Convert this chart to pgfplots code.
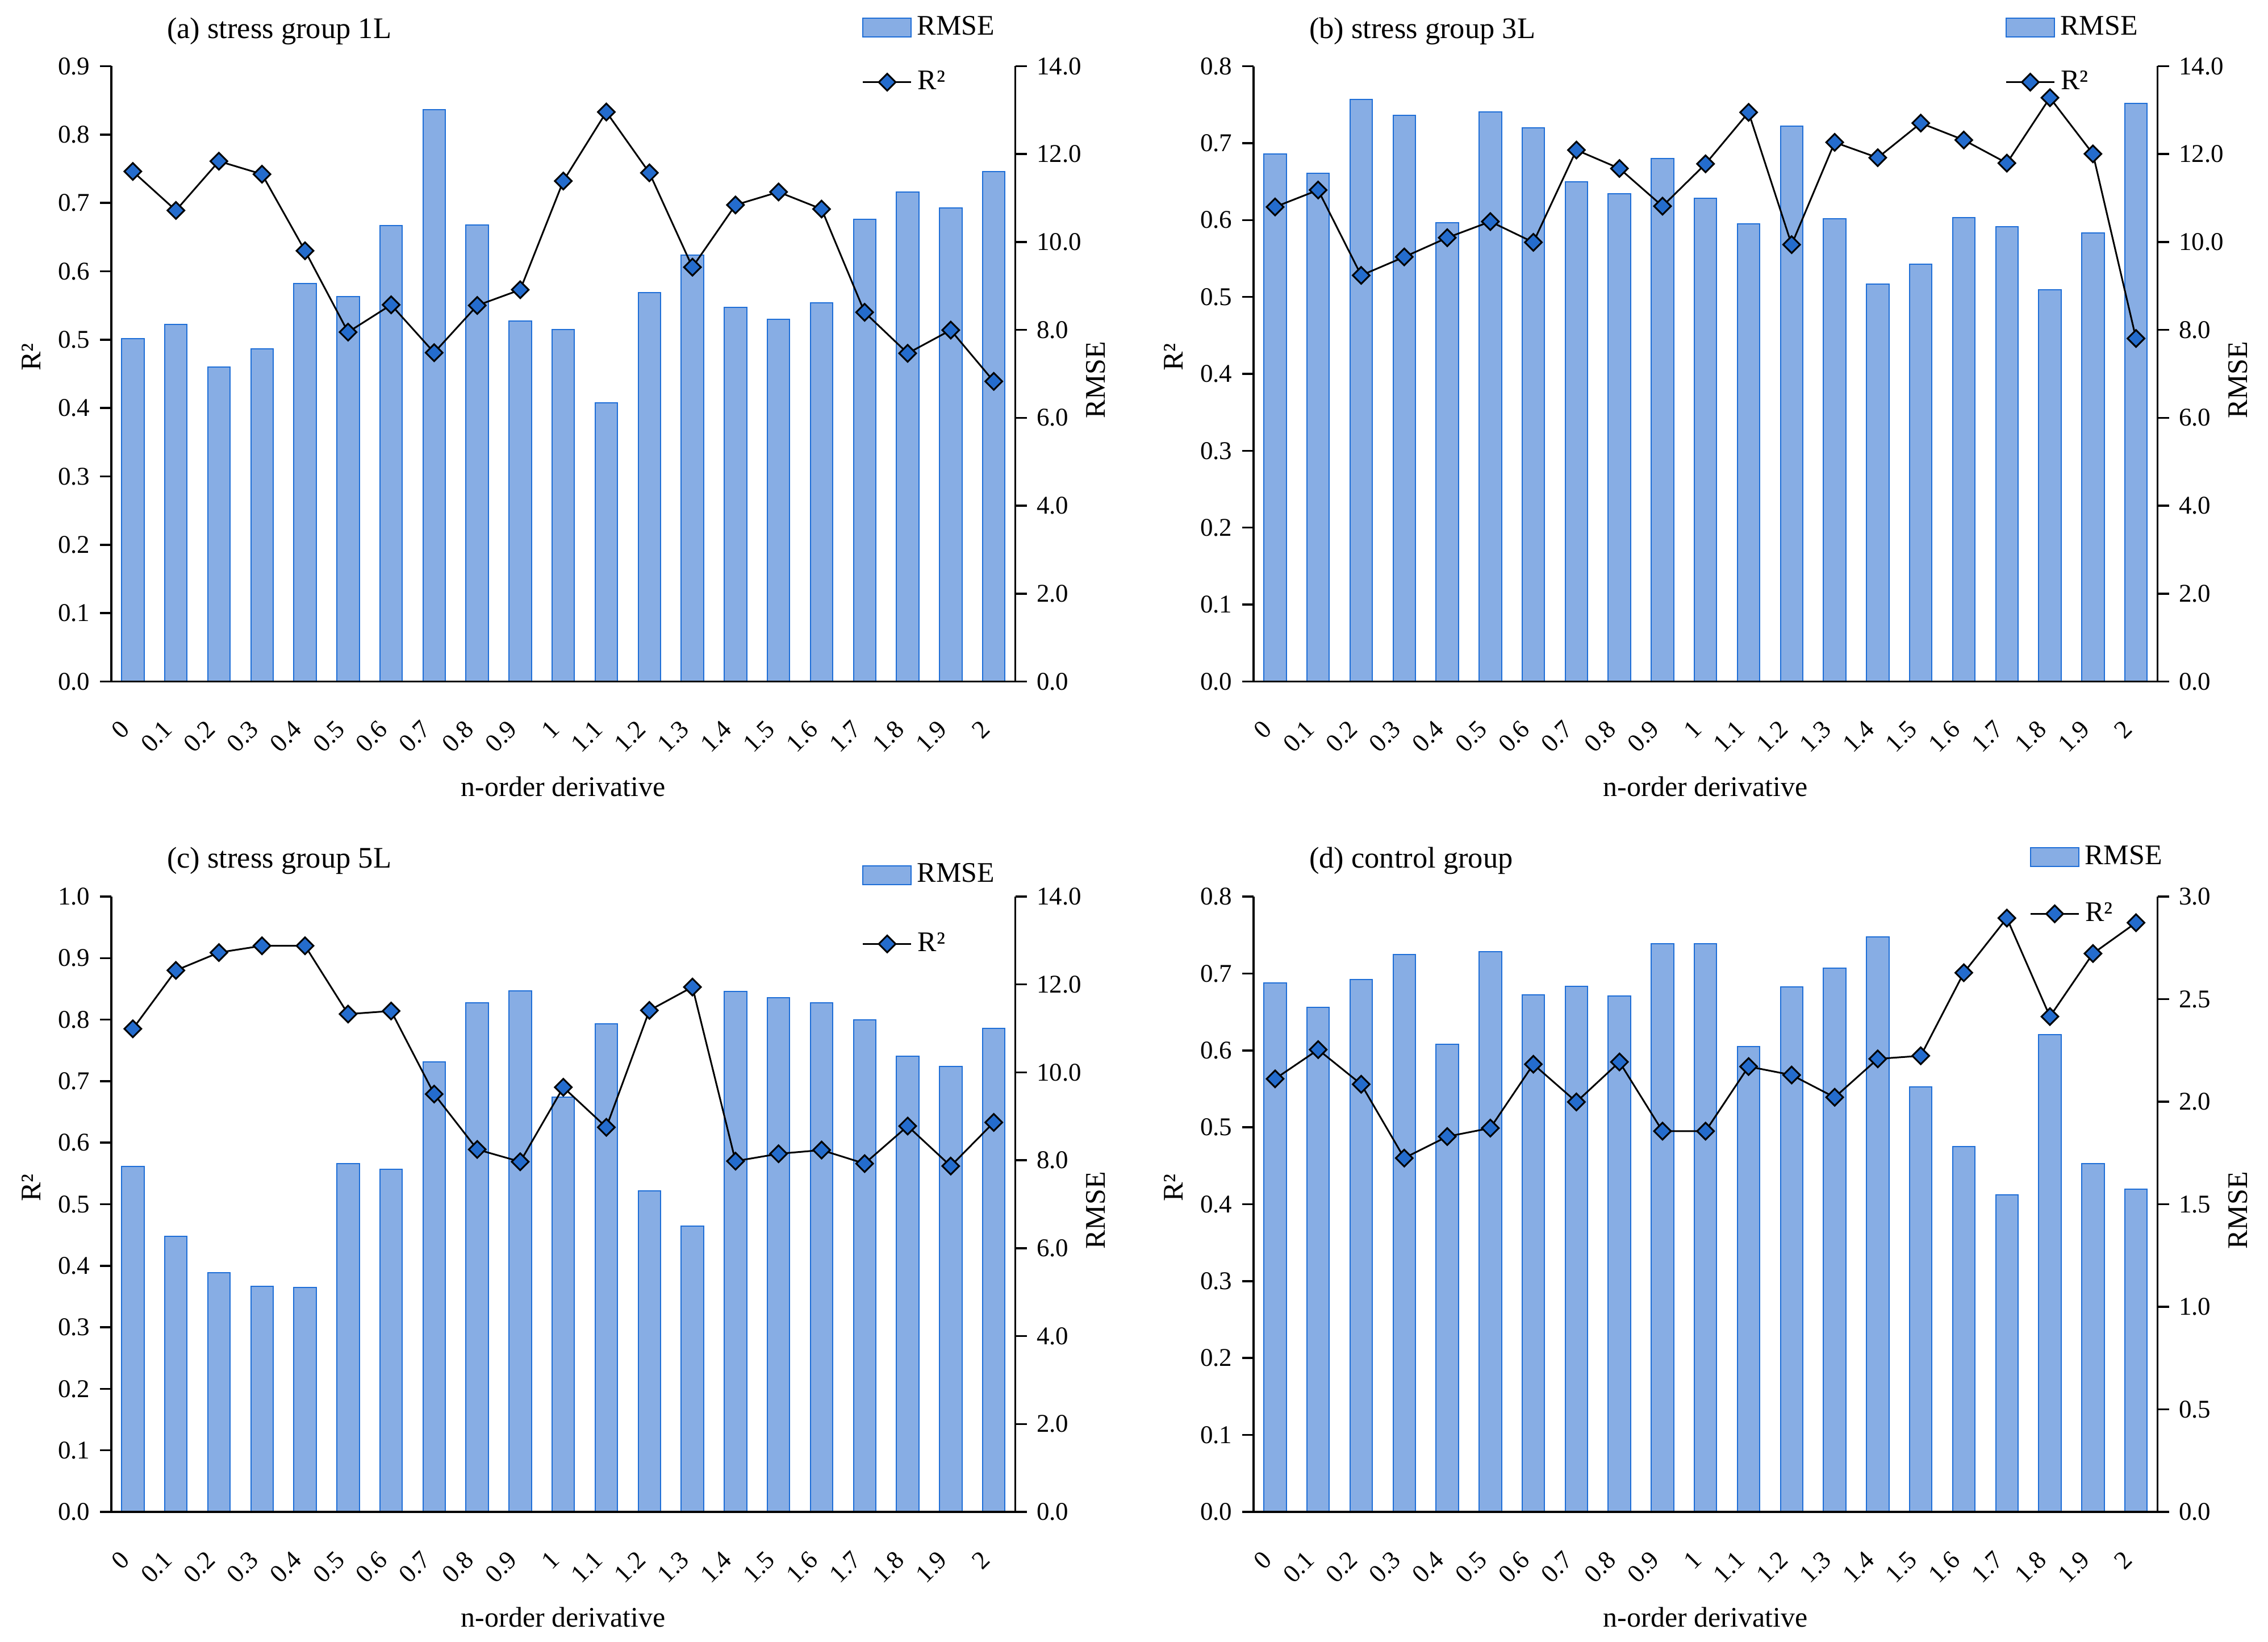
\documentclass[border=0pt]{standalone}
\usepackage{fontspec}
\setmainfont{Liberation Serif}
\usepackage{pgfplots}
\usepackage{pgfplotstable}
\pgfplotsset{compat=1.18}
\definecolor{barfill}{RGB}{135,173,228}
\definecolor{baredge}{RGB}{30,110,215}
\definecolor{mkfill}{RGB}{36,108,205}

\pgfplotstableread{
i rmse r2
0 7.80 0.746
1 8.13 0.689
2 7.15 0.761
3 7.57 0.742
4 9.05 0.630
5 8.76 0.511
6 10.37 0.551
7 13.01 0.481
8 10.39 0.550
9 8.20 0.573
10 8.01 0.732
11 6.34 0.833
12 8.85 0.744
13 9.70 0.606
14 8.51 0.697
15 8.24 0.716
16 8.62 0.691
17 10.51 0.540
18 11.14 0.480
19 10.77 0.514
20 11.60 0.439
}\tabA
\pgfplotstableread{
i rmse r2
0 12.00 0.617
1 11.56 0.639
2 13.24 0.528
3 12.88 0.552
4 10.44 0.577
5 12.96 0.598
6 12.60 0.571
7 11.37 0.691
8 11.10 0.667
9 11.90 0.618
10 11.00 0.673
11 10.41 0.740
12 12.63 0.568
13 10.53 0.701
14 9.04 0.681
15 9.49 0.726
16 10.56 0.704
17 10.35 0.674
18 8.91 0.759
19 10.20 0.686
20 13.15 0.446
}\tabB
\pgfplotstableread{
i rmse r2
0 7.86 0.785
1 6.27 0.880
2 5.44 0.909
3 5.13 0.920
4 5.11 0.920
5 7.92 0.809
6 7.80 0.814
7 10.24 0.679
8 11.58 0.589
9 11.85 0.569
10 9.44 0.690
11 11.10 0.625
12 7.30 0.815
13 6.50 0.853
14 11.84 0.570
15 11.70 0.582
16 11.58 0.588
17 11.19 0.566
18 10.37 0.627
19 10.14 0.562
20 11.00 0.633
}\tabC
\pgfplotstableread{
i rmse r2
0 2.578 0.563
1 2.461 0.601
2 2.596 0.556
3 2.718 0.460
4 2.281 0.488
5 2.731 0.499
6 2.522 0.582
7 2.563 0.533
8 2.515 0.585
9 2.769 0.495
10 2.769 0.495
11 2.268 0.579
12 2.560 0.568
13 2.652 0.539
14 2.802 0.589
15 2.073 0.593
16 1.781 0.701
17 1.547 0.772
18 2.327 0.644
19 1.697 0.726
20 1.572 0.766
}\tabD

\pgfplotsset{
  base/.style={
    scale only axis, width=318.3pt, height=216.6pt,
    xmin=-0.5, xmax=20.5, anchor=south west, clip=false,
    /pgf/number format/assume math mode=true,
    tick label style={font=\fontsize{9}{10}\selectfont},
    axis line style={line width=0.7pt, black},
    tick style={line width=0.7pt, black},
    major tick length=4pt, tick align=outside,
    label style={font=\fontsize{10}{12}\selectfont},
    yticklabel style={/pgf/number format/.cd, fixed, fixed zerofill, precision=1},
  },
  baraxis/.style={
    base,
    axis x line=none, xtick=\empty,
    axis y line*=right,
    ylabel={RMSE},
    every axis y label/.style={at={(axis description cs:1.089,0.49)}, anchor=center, rotate=90},
    legend style={anchor=west, draw=none, fill=none, inner sep=0pt,
      font=\fontsize{10}{12}\selectfont},
    legend cell align=left,
  },
  lineaxis/.style={
    base,
    axis y line*=left, axis x line*=bottom,
    xtick={0,...,20},
    xticklabels={0,0.1,0.2,0.3,0.4,0.5,0.6,0.7,0.8,0.9,1,1.1,1.2,1.3,1.4,1.5,1.6,1.7,1.8,1.9,2},
    x tick style={draw=none},
    xticklabel style={xshift=-5pt, yshift=-9pt, rotate=45, anchor=north east, inner sep=0pt},
    ylabel={R²}, xlabel={n-order derivative},
    every axis y label/.style={at={(axis description cs:-0.0886,0.527)}, anchor=center, rotate=90},
    every axis x label/.style={at={(axis description cs:0.5,-0.171)}, anchor=center},
    legend style={anchor=west, draw=none, fill=none, inner sep=0pt,
      font=\fontsize{10}{12}\selectfont},
    legend cell align=left,
  },
  barplot/.style={ybar, bar width=0.52, fill=barfill, draw=baredge, line width=0.4pt,
    legend image code/.code={\draw[#1] (0pt,-3.3pt) rectangle (17pt,3.3pt);}},
  lineplot/.style={black, line width=0.6pt, mark=square*, mark size=2.1pt,
    mark options={rotate=45, fill=mkfill, draw=black, line width=0.6pt},
    legend image code/.code={\draw[mark repeat=2,mark phase=2,##1] plot coordinates {(0pt,0pt) (8.5pt,0pt) (17pt,0pt)};}},
}

\begin{document}
\begin{tikzpicture}
\useasboundingbox (0,0) rectangle (798.6pt,578pt);

% (a)
\begin{axis}[baraxis, at={(39.2pt,338.1pt)}, ymin=0, ymax=14, ytick={0,2,...,14},
  legend style={at={(0.830,1.063)}}]
\addplot[barplot] table[x=i,y=rmse] {\tabA};
\legend{RMSE}
\end{axis}
\begin{axis}[lineaxis, at={(39.2pt,338.1pt)}, ymin=0, ymax=0.9, ytick={0,0.1,...,0.9},
  legend style={at={(0.830,0.974)}}]
\addplot[lineplot] table[x=i,y=r2] {\tabA};
\legend{R²}
\node[anchor=west, inner sep=0pt, font=\fontsize{10.5}{12}\selectfont] at (rel axis cs:0.061,1.057) {(a) stress group 1L};
\end{axis}

% (b)
\begin{axis}[baraxis, at={(441.4pt,338.1pt)}, ymin=0, ymax=14, ytick={0,2,...,14},
  legend style={at={(0.831,1.063)}}]
\addplot[barplot] table[x=i,y=rmse] {\tabB};
\legend{RMSE}
\end{axis}
\begin{axis}[lineaxis, at={(441.4pt,338.1pt)}, ymin=0, ymax=0.8, ytick={0,0.1,...,0.8},
  legend style={at={(0.831,0.974)}}]
\addplot[lineplot] table[x=i,y=r2] {\tabB};
\legend{R²}
\node[anchor=west, inner sep=0pt, font=\fontsize{10.5}{12}\selectfont] at (rel axis cs:0.061,1.057) {(b) stress group 3L};
\end{axis}

% (c)
\begin{axis}[baraxis, at={(39.2pt,45.8pt)}, ymin=0, ymax=14, ytick={0,2,...,14},
  legend style={at={(0.830,1.035)}}]
\addplot[barplot] table[x=i,y=rmse] {\tabC};
\legend{RMSE}
\end{axis}
\begin{axis}[lineaxis, at={(39.2pt,45.8pt)}, ymin=0, ymax=1.0, ytick={0,0.1,...,1.0},
  legend style={at={(0.830,0.923)}}]
\addplot[lineplot] table[x=i,y=r2] {\tabC};
\legend{R²}
\node[anchor=west, inner sep=0pt, font=\fontsize{10.5}{12}\selectfont] at (rel axis cs:0.061,1.058) {(c) stress group 5L};
\end{axis}

% (d)
\begin{axis}[baraxis, at={(441.4pt,45.8pt)}, ymin=0, ymax=3, ytick={0,0.5,...,3},
  legend style={at={(0.858,1.064)}}]
\addplot[barplot] table[x=i,y=rmse] {\tabD};
\legend{RMSE}
\end{axis}
\begin{axis}[lineaxis, at={(441.4pt,45.8pt)}, ymin=0, ymax=0.8, ytick={0,0.1,...,0.8},
  legend style={at={(0.858,0.972)}}]
\addplot[lineplot] table[x=i,y=r2] {\tabD};
\legend{R²}
\node[anchor=west, inner sep=0pt, font=\fontsize{10.5}{12}\selectfont] at (rel axis cs:0.061,1.058) {(d) control group};
\end{axis}
\end{tikzpicture}
\end{document}
